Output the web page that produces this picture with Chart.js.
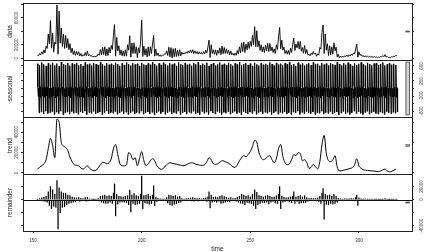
<!DOCTYPE html>
<html>
<head>
<meta charset="utf-8">
<script src="https://cdn.jsdelivr.net/npm/chart.js@4.4.1/dist/chart.umd.min.js"></script>
<style>
  html, body { margin: 0; padding: 0; background: #fff; }
  #wrap { position: relative; width: 433px; height: 252px; }
</style>
</head>
<body>
<div id="wrap"><canvas id="stlChart" width="433" height="252"></canvas></div>
<script>
// STL decomposition of a daily series (weeks on the time axis)
var panelNames = ['data', 'seasonal', 'trend', 'remainder'];

var timeStart = 152;
var dataStep = 0.5;       // data + remainder
var trendStep = 1;
var seasonalStep = 0.2;

var dataValues = [
  4300,3850,7000,5100,9600,6050,12500,8000,18000,14500,
  36000,21000,56000,15000,37000,9000,24000,21000,79000,6000,
  70000,22500,45000,17500,36000,14500,34000,15500,29000,12800,
  21600,8300,15000,5500,11000,4250,10000,5150,9800,3400,
  7000,2900,5300,3650,8500,3750,10500,3750,5500,2950,
  3500,2100,2600,2050,3000,3150,6500,4500,13000,5250,
  16500,5250,17000,3500,14000,4000,16000,8000,19000,13000,
  34000,50000,3000,31000,11000,18500,5000,12500,3500,11000,
  3000,12500,3000,20000,12000,33500,1500,22500,7000,23000,
  7000,17000,1000,15500,8000,25500,57000,2500,18000,4550,
  14100,2050,17000,3500,17000,7000,21000,34000,3000,13500,
  4000,7750,3000,5000,2700,4600,4000,6550,6000,11000,
  4000,16500,2000,15750,500,14250,2000,14750,2500,12250,
  3000,12750,3500,8750,6000,8050,6800,9500,7300,11000,
  7700,12250,8000,12750,7000,11000,7000,9750,6000,9550,
  6300,8500,6000,9750,6200,12000,8000,17000,27000,1000,
  20000,7000,12500,5750,12500,4250,12000,7250,15500,5250,
  18000,6750,16000,7000,14000,7000,12000,5250,11000,5000,
  7500,4250,7500,4250,11500,6000,17000,8000,23000,10000,
  24000,8500,21000,12500,24000,14500,25000,17500,34000,20000,
  47000,17000,41000,17000,26000,11500,20000,9500,17000,8500,
  19500,11000,22000,10000,22000,11000,16500,8500,14000,7000,
  20000,13000,32000,46000,14000,27000,12000,16500,7000,11500,
  6000,11500,5500,15000,8500,20500,30000,11500,21000,15500,
  25000,13500,25000,10500,16000,7500,19000,7000,13000,4750,
  6000,3500,7500,5200,10000,6050,7800,3000,6500,4500,
  16000,13500,38000,49500,7000,36000,12000,21500,4000,18500,
  5000,17000,6000,23000,11000,16500,2000,6000,500,3300,
  1200,3250,1500,3950,2400,4700,2300,5150,3300,6350,
  4200,7800,6000,14000,21000,1500,9500,4250,5700,2850,
  4000,1750,3700,1750,3000,1600,3100,1500,2500,1100,
  2500,1150,2100,700,1800,1250,2600,2000,3900,2200,
  5300,1900,2700,1000,1400,650,2000,1600,3300,2450,
  4400,3300
];

var seasonalValues = [
  655,30,-210,10,-650, 615,50,-240,-5,-625, 690,10,-190,30,-675, 640,40,-230,0,-600, 600,20,-200,25,-660, 670,55,-250,5,-640,
  630,35,-220,15,-615, 685,15,-195,35,-690, 610,45,-245,-10,-630, 660,25,-205,20,-665, 595,50,-235,5,-600, 700,10,-180,30,-695,
  645,40,-215,0,-645, 620,30,-225,15,-620, 675,20,-200,25,-680, 605,55,-250,-5,-610, 665,35,-210,10,-655, 640,15,-190,30,-640,
  680,25,-205,20,-685, 615,45,-240,0,-615, 650,30,-215,15,-650, 600,50,-235,-10,-600, 690,15,-185,35,-690, 635,40,-225,5,-635,
  660,30,-210,20,-660, 610,55,-245,-5,-610, 675,20,-195,25,-675, 645,35,-220,10,-645, 620,45,-230,0,-625, 695,10,-180,30,-695,
  640,35,-215,15,-640, 605,50,-240,-5,-600, 670,25,-200,20,-670, 630,40,-225,5,-635, 655,30,-210,15,-655, 615,45,-235,0,-615,
  685,15,-190,30,-685, 650,35,-215,10,-650, 600,55,-245,-10,-605, 665,25,-205,20,-665, 625,40,-230,5,-625, 690,20,-185,25,-690,
  645,30,-210,15,-645, 610,50,-240,-5,-610, 675,20,-195,30,-675, 635,40,-220,5,-635, 655,30,-215,15,-655, 600,55,-250,-10,-600,
  680,20,-190,25,-680, 640,35,-215,10,-640, 615,45,-235,0,-620, 670,25,-200,20,-670, 630,40,-225,5,-630, 700,15,-180,30,-700,
  650,30,-210,15,-650, 605,50,-245,-5,-605, 665,25,-205,20,-665, 625,45,-230,0,-625, 685,20,-190,25,-685, 640,35,-220,10,-640,
  610,50,-240,-5,-610, 675,20,-195,30,-675, 635,40,-225,5,-635, 660,30,-210,15,-660, 600,55,-250,-10,-600, 690,15,-185,30,-690,
  645,35,-215,10,-645, 620,45,-235,0,-620, 680,20,-195,25,-680, 630,40,-225,5,-630, 655,30,-210,15,-655, 605,50,-245,-5,-605,
  670,25,-200,20,-670, 640,35,-220,10,-640, 695,15,-180,30,-695, 615,45,-235,0,-615, 660,30,-210,15,-660, 625,40,-230,5,-625,
  685,20,-190,25,-685, 600,55,-250,-10,-600, 650,30,-215,15,-650, 675,25,-200,20,-675, 610,50,-240,-5,-610, 640,35,-220,10,-640,
  690,15,-185,30,-690, 630,40,-225,5,-630, 655,30,-210,15,-655, 620,45,-235,0,-620, 680,20,-195,25,-680, 645,35,-215,10,-645,
  605,50,-245,-5,-605, 665,25,-205,20,-665, 635,40,-225,5,-635, 700,10,-180,30,-700, 615,45,-235,0,-615, 650,30,-215,15,-650,
  675,20,-195,25,-675, 625,40,-230,5,-625, 660,30,-210,15,-660, 600,55,-250,-10,-600, 685,20,-190,25,-685, 640,35,-220,10,-640,
  610,50,-240,-5,-610, 670,25,-200,20,-670, 630,40,-225,5,-630, 655,30,-210,15,-655, 620,45,-235,0,-620, 690,15,-185,30,-690,
  645,35,-215,10,-645, 605,50,-245,-5,-605, 680,20,-195,25,-680, 635,40,-225,5,-635, 660,30,-210,15,-660, 615,45,-235,0,-615,
  675,25,-200,20,-675, 640,35,-220,10,-640, 695,15,-180,30,-695, 625,40,-230,5,-625, 650,30,-215,15,-650, 600,55,-250,-10,-600,
  685,20,-190,25,-685, 630,40,-225,5,-630, 665,25,-205,20,-665, 610,50,-240,-5,-610, 645,35,-215,10,-645, 670,25,-200,20,-670,
  620,45,-235,0,-620, 690,15,-185,30,-690, 640,35,-220,10,-640, 655,30,-210,15,-655, 605,50,-245,-5,-605, 680,20,-195,25,-680,
  635,40,-225,5,-635, 660,30,-210,15,-660, 615,45,-235,0,-615, 675,25,-200,20,-675, 645,35,-215,10,-645, 625,40,-230,5,-625,
  700,10,-180,30,-700, 650,30,-215,15,-650, 610,50,-240,-5,-610, 670,25,-200,20,-670, 630,40,-225,5,-630, 685,20,-190,25,-685,
  640,35,-220,10,-640, 600,55,-250,-10,-600, 665,25,-205,20,-665, 620,45,-235,0,-620, 655,30,-210,15,-655, 690,15,-185,30,-690,
  635,40,-225,5,-635, 605,50,-245,-5,-605, 680,20,-195,25,-680, 645,35,-215,10,-645, 615,45,-235,0,-615, 660,30,-210,15,-660,
  675,25,-200,20,-675, 625,40,-230,5,-625, 650,30,-215,15,-650, 690,15,-185,30,-690, 610,50,-240,-5,-610, 640,35,-220,10,-640,
  665,25,-205,20,-665, 630,40,-225,5,-630, 655,30,-210,15,-655, 620,45,-235,0,-620
];

var trendValues = [
  3800,5500,7100,9000,13000,24000,34000,27000,15000,53000,
  50000,30000,26500,25000,22000,15600,11000,8000,7500,6800,
  5000,3800,5500,7000,4500,3000,2200,2500,5000,8000,
  10500,10000,9000,10000,14000,24000,28000,18000,9000,7000,
  7000,8000,20000,18000,13000,15000,7000,14000,21000,12000,
  7100,9000,12000,14000,12000,7000,4500,3500,4500,7000,
  9000,10000,9500,9000,8500,8000,7500,7000,7500,8500,
  9500,10000,9500,8500,8000,7500,7500,8000,11000,15000,
  13000,9000,8500,9000,10500,12000,11500,10500,9500,8000,
  6000,5500,8000,12000,15000,17000,16000,18000,21000,26000,
  32000,30000,20000,15000,13000,14000,16000,17000,13000,10000,
  14000,24000,28000,16000,10000,8000,9000,13000,18000,17000,
  20000,19000,12000,13000,10000,4500,5500,8500,6000,4000,
  11000,28000,37000,19000,12000,11000,13000,17000,6000,2000,
  2200,2700,3200,3800,4500,5200,8000,14000,7000,4500,
  3200,2700,2400,2200,2000,1800,1500,1300,2000,3000,
  3800,2000,1000,1500,2500,3800
];

var remainderValues = [
  500,-800,1500,-1200,2500,-2000,3500,-3000,5000,-4000,
  12000,-9000,20000,-14000,15000,-10000,8000,-12000,29000,-45000,
  18000,-20000,12000,-12000,10000,-11000,9000,-8000,7000,-6000,
  6000,-5000,4000,-4000,3000,-3500,2500,-2000,3000,-2500,
  2000,-1500,1500,-1000,3000,-2500,3500,-2000,1000,-800,
  500,-500,400,-300,500,-600,1500,-2000,5000,-4000,
  6000,-5000,7000,-6000,5000,-5500,6000,-4000,5000,-6000,
  10000,24000,-25000,8000,-7000,5000,-4000,4500,-3500,4000,
  -4000,5000,-5000,6000,-8000,14500,-19000,7000,-6000,9000,
  -8000,6000,-7000,5000,-6000,8000,36000,-14000,6000,-5000,
  7000,-6000,8000,-7000,5000,-6000,7000,21000,-9000,4000,
  -3000,2000,-1500,1000,-800,600,-500,800,-1000,3000,
  -5000,7000,-8000,6000,-9000,5000,-7000,6000,-6000,4000,
  -5000,5000,-4000,1500,-1000,800,-700,1500,-1200,2000,
  -1800,2500,-2000,3000,-2500,2000,-1500,1500,-2000,1800,
  -1200,1000,-1500,2000,-1800,2500,-3000,4000,12000,-13000,
  7000,-4000,3500,-3000,4000,-4500,3000,-2500,5000,-6000,
  6000,-5000,4500,-4000,3500,-3000,2500,-3500,3000,-2000,
  1500,-1500,2000,-2500,3500,-4000,5000,-5500,8000,-6000,
  7000,-8000,5000,-4500,6000,-5000,4000,-6000,8000,-9000,
  15000,-14000,11000,-8000,6000,-6000,5000,-4500,4000,-5000,
  5500,-4000,6000,-6500,5000,-4000,3500,-3000,4000,-5000,
  6000,-6000,8000,20000,-14000,5000,-4000,3500,-3000,2500,
  -2000,3000,-3500,4000,-4500,5000,12000,-6000,4000,-3000,
  5000,-6000,6000,-5000,4000,-5000,6000,-4500,3000,-2500,
  1500,-1500,2000,-1800,1500,-1200,1800,-2000,2500,-3000,
  5000,-6000,10000,17000,-30000,8000,-7000,6000,-8000,7000,
  -6000,5000,-7000,8000,-6000,5000,-4000,2000,-1500,1200,
  -1000,800,-1200,1000,-800,1200,-1500,1000,-1200,1500,
  -1000,1200,-2000,3000,7000,-9000,2500,-1500,1200,-1000,
  800,-1200,1000,-800,600,-700,900,-600,500,-800,
  700,-500,600,-700,500,-400,600,-500,900,-1200,
  1500,-1000,700,-500,400,-600,500,-400,800,-700,
  600,-500
];

var timeTicks = [150, 200, 250, 300];
var dataTicks = [0, 20000, 40000, 60000, 80000];
var dataTickLabels = [0, 20000, 60000];
var seasonalTicks = [-600, -400, -200, 0, 200, 400, 600];
var seasonalTickLabels = [-600, -200, 200, 600];
var trendTicks = [0, 10000, 20000, 30000, 40000, 50000];
var trendTickLabels = [0, 20000, 40000];
var remainderTicks = [-40000, -20000, 0, 20000];
var remainderTickLabels = [-40000, 0, 20000];

function toPoints(values, start, step) {
  return values.map(function (v, i) { return {x: start + i * step, y: v}; });
}

// R-style axis limits: data range plus 4% on each side
function rLimits(values) {
  var lo = Math.min.apply(null, values), hi = Math.max.apply(null, values);
  var pad = 0.04 * (hi - lo);
  return {lo: lo, hi: hi, min: lo - pad, max: hi + pad};
}

var timeEnd = timeStart + (seasonalValues.length - 1) * seasonalStep;
var xLim = rLimits([timeStart, timeEnd]);

var panels = [
  {name: panelNames[0], id: 'yData', rid: 'rData', values: dataValues, ticks: dataTicks, labels: dataTickLabels, side: 'left'},
  {name: panelNames[1], id: 'ySeas', rid: 'rSeas', values: seasonalValues, ticks: seasonalTicks, labels: seasonalTickLabels, side: 'right'},
  {name: panelNames[2], id: 'yTrend', rid: 'rTrend', values: trendValues, ticks: trendTicks, labels: trendTickLabels, side: 'left'},
  {name: panelNames[3], id: 'yRem', rid: 'rRem', values: remainderValues, ticks: remainderTicks, labels: remainderTickLabels, side: 'right'}
];
panels.forEach(function (p) { p.lim = rLimits(p.values); });
var minRange = Math.min.apply(null, panels.map(function (p) { return p.lim.hi - p.lim.lo; }));

function yAxis(p, pos, weight) {
  return {
    type: 'linear',
    position: pos,
    stack: pos + 'Stack',
    stackWeight: 1,
    weight: weight,
    min: p.lim.min,
    max: p.lim.max,
    afterBuildTicks: function (s) {
      s.ticks = p.ticks.map(function (v) { return {value: v}; });
    },
    afterFit: function (s) { s.width = pos === 'left' ? 23 : 21; },
    ticks: {display: false},
    grid: {drawOnChartArea: false, drawTicks: true, tickLength: 2, color: '#333', lineWidth: 1},
    border: {display: false}
  };
}

var scales = {
  x: {
    type: 'linear',
    position: 'bottom',
    min: xLim.min,
    max: xLim.max,
    offset: false,
    afterBuildTicks: function (s) {
      s.ticks = timeTicks.map(function (v) { return {value: v}; });
    },
    afterFit: function (s) { s.height = 21; },
    ticks: {
      font: {family: 'Liberation Sans', size: 4.5},
      color: '#333',
      padding: 5,
      maxRotation: 0,
      autoSkip: false,
      callback: function (v) { return String(v); }
    },
    grid: {drawOnChartArea: false, drawTicks: true, tickLength: 2, color: '#333', offset: false},
    border: {display: false}
  }
};
panels.forEach(function (p, i) {
  scales[p.id] = yAxis(p, 'left', 4 - i);
  scales[p.rid] = yAxis(p, 'right', i + 1);
});

var stlDecor = {
  id: 'stlDecor',
  afterDraw: function (chart) {
    var c = chart.ctx, area = chart.chartArea, xs = chart.scales.x;
    var dx = (xs.max - xs.min) / 64;
    var bx1 = xs.getPixelForValue(xs.max - dx), bx2 = xs.getPixelForValue(xs.max - 0.4 * dx);
    c.save();
    panels.forEach(function (p, i) {
      var s = chart.scales[p.id];
      var top = Math.round(s.top), bottom = Math.round(s.bottom);
      // remainder zero line
      if (i === panels.length - 1) {
        var y0 = Math.round(s.getPixelForValue(0)) + 0.5;
        c.strokeStyle = '#111'; c.lineWidth = 1;
        c.beginPath(); c.moveTo(area.left, y0); c.lineTo(area.right, y0); c.stroke();
      }
      // range bar
      var mid = (p.lim.lo + p.lim.hi) / 2;
      var y1 = s.getPixelForValue(mid + minRange / 2), y2 = s.getPixelForValue(mid - minRange / 2);
      c.fillStyle = '#d3d3d3';
      c.fillRect(bx1, y1, bx2 - bx1, y2 - y1);
      c.strokeStyle = '#444'; c.lineWidth = 0.8;
      c.strokeRect(bx1, y1, bx2 - bx1, y2 - y1);
      // panel box
      c.strokeStyle = '#222'; c.lineWidth = 1;
      c.strokeRect(Math.round(area.left) + 0.5, top + 0.5, Math.round(area.right - area.left), bottom - top);
      // tick labels (rotated, R style)
      c.fillStyle = '#333';
      c.font = '4.5px "Liberation Sans"';
      c.textAlign = 'center';
      c.textBaseline = 'middle';
      var lx = p.side === 'left' ? 16.5 : 422;
      p.labels.forEach(function (v) {
        c.save();
        c.translate(lx, s.getPixelForValue(v));
        c.rotate(-Math.PI / 2);
        c.fillText(String(v), 0, 0);
        c.restore();
      });
      // panel title
      c.fillStyle = '#222';
      c.font = '6.5px "Liberation Sans"';
      c.save();
      c.translate(10, (s.top + s.bottom) / 2);
      c.rotate(-Math.PI / 2);
      c.fillText(p.name, 0, 0);
      c.restore();
    });
    c.font = '6.5px "Liberation Sans"';
    c.fillStyle = '#222';
    c.fillText('time', (area.left + area.right) / 2, 249);
    c.restore();
  }
};

var ctx = document.getElementById('stlChart');
var stlChart = new Chart(ctx, {
  type: 'line',
  data: {
    datasets: [{
      label: 'data',
      data: toPoints(dataValues, timeStart, dataStep),
      yAxisID: 'yData',
      borderColor: '#000',
      borderWidth: 0.9,
      pointRadius: 0
    }, {
      label: 'seasonal',
      data: toPoints(seasonalValues, timeStart, seasonalStep),
      yAxisID: 'ySeas',
      borderColor: '#000',
      borderWidth: 1,
      pointRadius: 0
    }, {
      label: 'trend',
      data: toPoints(trendValues, timeStart, trendStep),
      yAxisID: 'yTrend',
      borderColor: '#000',
      borderWidth: 1,
      pointRadius: 0,
      cubicInterpolationMode: 'monotone'
    }, {
      type: 'bar',
      label: 'remainder',
      data: toPoints(remainderValues, timeStart, dataStep),
      yAxisID: 'yRem',
      backgroundColor: '#000',
      borderWidth: 0,
      barThickness: 0.6
    }]
  },
  options: {
    responsive: false,
    animation: false,
    events: [],
    layout: {padding: {top: 3, left: 0, right: 0, bottom: 0}},
    plugins: {legend: {display: false}, tooltip: {enabled: false}},
    scales: scales
  },
  plugins: [stlDecor]
});
</script>
</body>
</html>
